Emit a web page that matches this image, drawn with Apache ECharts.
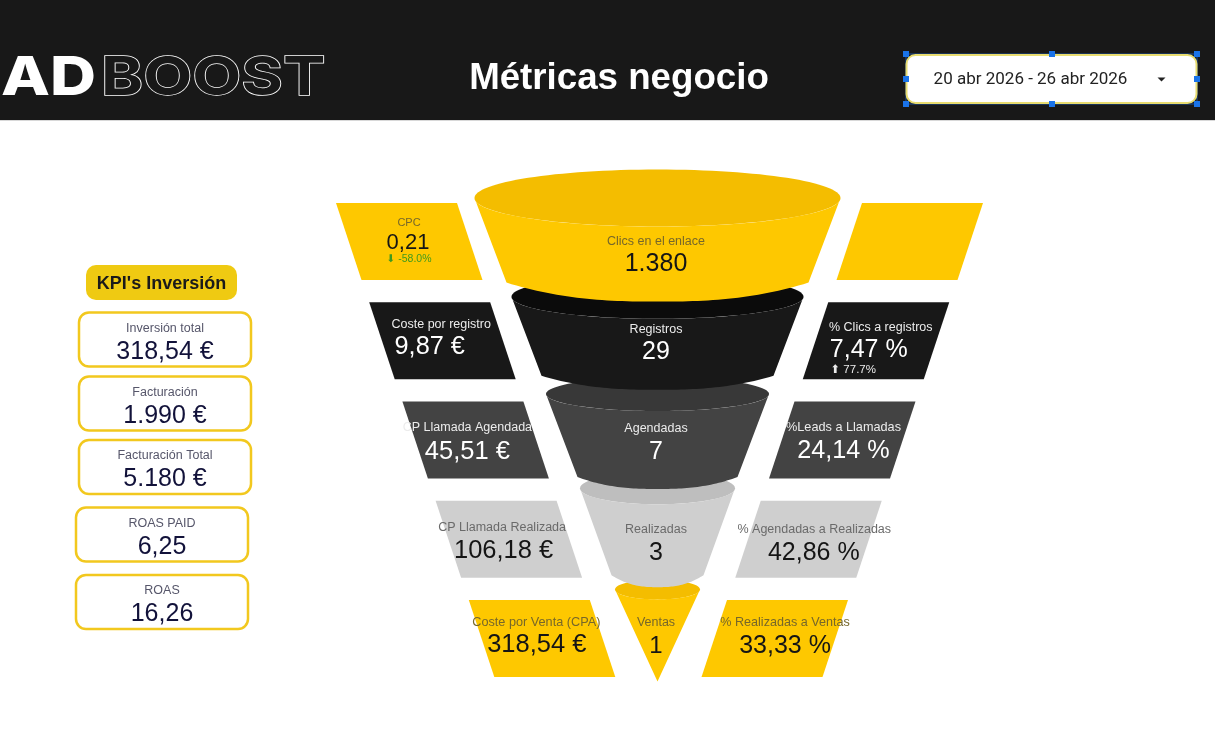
<!DOCTYPE html>
<html>
<head>
<meta charset="utf-8">
<style>html,body{margin:0;padding:0;background:#fff}#chart{width:1215px;height:738px}</style>
<script src="https://cdn.jsdelivr.net/npm/echarts@6/dist/echarts.min.js"></script>
</head>
<body>
<div id="chart"></div>
<script>
const stageNames = ['Clics en el enlace', 'Registros', 'Agendadas', 'Realizadas', 'Ventas']
const stageValues = [1380, 29, 7, 3, 1]
const costNames = ['CPC', 'Coste por registro', 'CP Llamada Agendada', 'CP Llamada Realizada', 'Coste por Venta (CPA)']
const costValues = [0.21, 9.87, 45.51, 106.18, 318.54]
const rateNames = ['', '% Clics a registros', '%Leads a Llamadas', '% Agendadas a Realizadas', '% Realizadas a Ventas']
const rateValues = [null, 7.47, 24.14, 42.86, 33.33]
const kpiNames = ['Inversión total', 'Facturación', 'Facturación Total', 'ROAS PAID', 'ROAS']
const kpiValues = ['318,54 €', '1.990 €', '5.180 €', '6,25', '16,26']
const titleText = 'Métricas negocio'
const dateText = '20 abr 2026 - 26 abr 2026'

const FONT = '"Liberation Sans", Arial, sans-serif'
const YELLOW = '#fec800'
const front = [YELLOW, '#181818', '#434343', '#cfcfcf', YELLOW]
const back = ['#f4bd00', '#0b0b0b', '#383838', '#bebebe', '#f4bd00']
const dark = [false, true, true, false, false]
const labelColor = i => dark[i] ? '#ececec' : (i === 3 ? '#6a6a6a' : '#76672a')
const valueColor = i => dark[i] ? '#fff' : '#151515'

// funnel stage shapes, offsets are from each row centre
const CX = 657.5
const tipDy = [-43.5, -44, -46, -51, -49]
const tipHalf = [183, 146, 111.5, 77.5, 42.5]
const topRy = [28.5, 22, 17, 16, 10]
const botDy = [41, 35, 37, 36]
const botHalf = [151, 116, 80, 46]
const botRy = [19, 14, 12, 12]
const stageLabelDy = [0, -11.5, -11, -10, -15.5]
const stageValueDy = [22.5, 11, 12.5, 13.5, 8]

const num = v => v.toFixed(2).replace('.', ',')
const thousands = v => String(v).replace(/\B(?=(\d{3})+$)/g, '.')

function text(str, x, y, size, color, extra) {
    return {
        type: 'text',
        z2: 100,
        style: Object.assign({
            text: str, x: x, y: y, fontSize: size, fontFamily: FONT, fill: color,
            align: 'center', verticalAlign: 'middle'
        }, extra || {})
    }
}

function renderStage(params, api) {
    const i = api.value(0)
    const cy = api.coord([0, i])[1]
    const cx = api.coord([CX, i])[0]
    const tipY = cy + tipDy[i]
    const hw = tipHalf[i]
    const pts = [[cx - hw, tipY]]
    if (i < 4) {
        const by = cy + botDy[i]
        const bw = botHalf[i]
        // shallow curve at the bottom, corners stay sharp like the cut of a cone
        for (let k = -30; k <= 30; k++) {
            const t = k / 30
            pts.push([cx + bw * t, by + botRy[i] * (1 - Math.pow(Math.abs(t), 2.5))])
        }
    } else {
        pts.push([cx, cy + 43])
    }
    pts.push([cx + hw, tipY])
    for (let k = 0; k <= 40; k++) {
        const a = Math.PI * k / 40
        pts.push([cx + hw * Math.cos(a), tipY + topRy[i] * Math.sin(a)])
    }
    return {
        type: 'group',
        children: [
            { type: 'ellipse', shape: { cx: cx, cy: tipY, rx: hw, ry: topRy[i] }, style: { fill: back[i] } },
            { type: 'polygon', shape: { points: pts }, style: { fill: front[i] } },
            text(stageNames[i], cx - 1.5, cy + stageLabelDy[i], 12.5, labelColor(i)),
            text(thousands(api.value(1)), cx - 1.5, cy + stageValueDy[i], i === 4 ? 24 : 25, valueColor(i))
        ]
    }
}

// side cards: same parallelogram per row, stepping inwards with the funnel
const cardH = 38.5
const cardW = 121
const cardLean = 25.5
const leftX0 = 336
const rightX0 = 862
const leftStep = 33.2
const rightStep = 33.75
const costLabel = [[73, -18.5, 11], [72, -16.5, 12.5], [65, -12.5, 12.5], [66.5, -11.5, 12.5], [67.5, -15.5, 12.7]]
const costValue = [[72, 1, 22], [60.5, 6, 25.3], [65, 12, 25.5], [68, 12, 25.5], [68, 7, 25.5]]
const rateLabel = [null, [52.5, -13.5, 12.5], [49, -12.5, 12.7], [53.5, -9.5, 12.5], [58, -15.5, 12.6]]
const rateValue = [null, [40.5, 9, 25], [49, 11, 25.2], [53, 14, 25], [58, 8, 25]]

function parallelogram(xTop, lean, cy, fill) {
    return {
        type: 'polygon',
        shape: { points: [
            [xTop, cy - cardH], [xTop + cardW, cy - cardH],
            [xTop + cardW + lean, cy + cardH], [xTop + lean, cy + cardH]
        ] },
        style: { fill: fill }
    }
}

function renderCost(params, api) {
    const i = api.value(0)
    const cy = api.coord([0, i])[1]
    const x = api.coord([leftX0 + leftStep * i, i])[0]
    const unit = i === 0 ? '' : ' €'
    const kids = [
        parallelogram(x, cardLean, cy, front[i]),
        text(costNames[i], x + costLabel[i][0], cy + costLabel[i][1], costLabel[i][2], labelColor(i)),
        text(num(api.value(1)) + unit, x + costValue[i][0], cy + costValue[i][1], costValue[i][2], valueColor(i))
    ]
    if (i === 0) kids.push(text('⬇ -58.0%', x + 73, cy + 18, 10.5, '#3f9a1e', { fontFamily: FONT + ', "DejaVu Sans"' }))
    return { type: 'group', children: kids }
}

function renderRate(params, api) {
    const i = api.value(0)
    const cy = api.coord([0, i])[1]
    const x = api.coord([rightX0 - rightStep * i, i])[0]
    const kids = [parallelogram(x, -cardLean, cy, front[i])]
    if (rateValues[i] !== null) {
        kids.push(text(rateNames[i], x + rateLabel[i][0], cy + rateLabel[i][1], rateLabel[i][2], labelColor(i)))
        kids.push(text(num(api.value(1)) + ' %', x + rateValue[i][0], cy + rateValue[i][1], rateValue[i][2], valueColor(i)))
    }
    if (i === 1) kids.push(text('⬆ 77.7%', x + 25, cy + 29.5, 11.5, '#ececec', { fontFamily: FONT + ', "DejaVu Sans"' }))
    return { type: 'group', children: kids }
}

// left column
const kpiBoxX = [79, 79, 79, 76, 76]
const kpiBoxY = [312.5, 376.5, 440, 507.5, 575]
const graphics = []
const pushText = (str, x, y, size, color, extra, props) => {
    graphics.push(Object.assign(text(str, x, y, size, color, extra), props || {}))
}
graphics.push({ type: 'rect', shape: { x: 0, y: 0, width: 1215, height: 120 }, style: { fill: '#181818' } })
graphics.push({ type: 'rect', shape: { x: 0, y: 120, width: 1215, height: 1 }, style: { fill: '#d8d8d8' } })
pushText('AD', 1, 79, 54, '#fff', { align: 'left', fontFamily: 'Inter', fontWeight: 800 },
    { scaleX: 1.18, originX: 1, originY: 79 })
pushText('BOOST', 101, 79, 54, '#181818', { align: 'left', fontFamily: 'Inter', fontWeight: 700, stroke: '#fff', lineWidth: 1.5 },
    { scaleX: 1.18, originX: 101, originY: 79 })
pushText(titleText, 619, 79, 36.7, '#fff', { fontWeight: 700 })

graphics.push({ type: 'rect', shape: { x: 906, y: 54, width: 291, height: 50 }, style: { fill: 'none', stroke: '#1a4f9a', lineWidth: 1 } })
graphics.push({ type: 'rect', shape: { x: 906.5, y: 55, width: 290, height: 48, r: 9 }, style: { fill: '#fff', stroke: '#e8dc70', lineWidth: 2 } })
pushText(dateText, 1030.5, 79.5, 17, '#222', { fontFamily: 'Roboto' })
graphics.push({ type: 'polygon', shape: { points: [[1157.5, 77.5], [1165.5, 77.5], [1161.5, 81.5]] }, style: { fill: '#222' } })
;[906, 1052, 1197].forEach(x => {
    ;[54, 79, 104].forEach(y => {
        if (x === 1052 && y === 79) return
        graphics.push({ type: 'rect', z2: 101, shape: { x: x - 3, y: y - 3, width: 6, height: 6 }, style: { fill: '#1a73e8' } })
    })
})

graphics.push({ type: 'rect', shape: { x: 86, y: 265, width: 151, height: 35, r: 10 }, style: { fill: '#efca12' } })
pushText("KPI's Inversión", 161.5, 284, 18, '#1a1a1a', { fontWeight: 700 })
kpiNames.forEach((name, i) => {
    const x = kpiBoxX[i]
    const y = kpiBoxY[i]
    graphics.push({ type: 'rect', shape: { x: x, y: y, width: 172, height: 54, r: 10 }, style: { fill: '#fff', stroke: '#f2c81e', lineWidth: 2.5 } })
    pushText(name, x + 86, y + 16, 12.5, '#56566a')
    pushText(kpiValues[i], x + 86, y + 39.5, 25, '#12123a')
})

const chart = echarts.init(document.getElementById('chart'), null, { renderer: 'canvas' })
chart.setOption({
    animation: false,
    backgroundColor: '#fff',
    grid: { left: 0, right: 0, top: 192, bottom: 50 },
    xAxis: { type: 'value', min: 0, max: 1215, show: false },
    yAxis: { type: 'category', inverse: true, show: false, data: stageNames },
    graphic: graphics,
    series: [{
        type: 'custom',
        name: 'Embudo',
        clip: false,
        z: 3,
        encode: { y: 0 },
        renderItem: renderStage,
        // drawn bottom up so each stage sits over the next one
        data: stageValues.map((v, i) => [i, v]).reverse()
    }, {
        type: 'custom',
        name: 'Costes',
        clip: false,
        z: 2,
        encode: { y: 0 },
        renderItem: renderCost,
        data: costValues.map((v, i) => [i, v])
    }, {
        type: 'custom',
        name: 'Ratios',
        clip: false,
        z: 2,
        encode: { y: 0 },
        renderItem: renderRate,
        data: rateValues.map((v, i) => [i, v === null ? 0 : v])
    }]
})
</script>
</body>
</html>
